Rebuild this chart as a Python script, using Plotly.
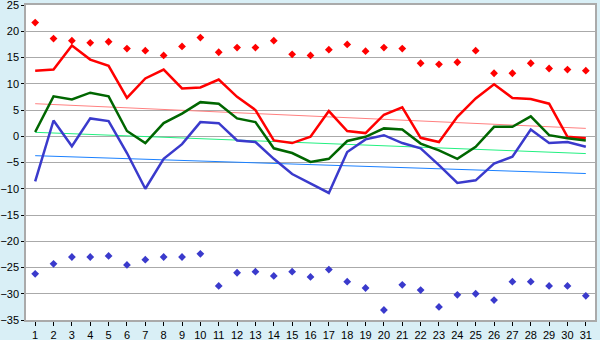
import plotly.graph_objects as go

days = list(range(1, 32))

abs_max = [21.65, 18.6, 18.2, 17.8, 18.0, 16.7, 16.3, 15.4, 17.1, 18.8,
           16.0, 16.9, 16.9, 18.2, 15.6, 15.4, 16.5, 17.5, 16.2, 16.9,
           16.7, 13.9, 13.7, 14.1, 16.3, 12.0, 12.0, 13.9, 12.9, 12.7, 12.5]

mean_max = [12.5, 12.7, 17.3, 14.6, 13.4, 7.3, 11.0, 12.7, 9.1, 9.3,
            10.8, 7.5, 5.0, -0.8, -1.3, -0.1, 4.8, 1.0, 0.6, 4.1,
            5.5, -0.3, -1.1, 3.7, 7.2, 9.9, 7.3, 7.1, 6.2, -0.1, -0.4]

mean_temp = [0.8, 7.6, 7.0, 8.3, 7.6, 1.0, -1.3, 2.5, 4.3, 6.5,
             6.2, 3.4, 2.7, -2.3, -3.2, -4.9, -4.3, -0.9, -0.1, 1.5,
             1.3, -1.4, -2.7, -4.3, -2.0, 1.8, 1.8, 3.8, 0.2, -0.4, -0.8]

mean_min = [-8.6, 3.0, -1.9, 3.4, 2.9, -3.2, -10.0, -4.3, -1.5, 2.7,
            2.5, -0.8, -1.1, -4.3, -7.2, -9.0, -10.8, -3.0, -0.6, 0.2,
            -1.3, -2.3, -5.5, -8.9, -8.4, -5.2, -3.9, 1.3, -1.3, -1.1, -2.0]

abs_min = [-26.2, -24.3, -23.0, -23.0, -22.8, -24.5, -23.5, -23.0, -23.0, -22.4,
           -28.5, -26.0, -25.8, -26.6, -25.8, -26.8, -25.4, -27.7, -28.9, -33.1,
           -28.3, -29.3, -32.5, -30.2, -30.0, -31.2, -27.7, -27.7, -28.5, -28.5, -30.4]

trend_x = [1, 31]
trend_max = [6.2, 1.5]
trend_mean = [0.75, -3.3]
trend_min = [-3.7, -7.1]

y_ticks = list(range(-35, 30, 5))

fig = go.Figure()

# trend lines
fig.add_trace(go.Scatter(x=trend_x, y=trend_max, mode="lines",
                         line=dict(color="#ff8080", width=1), hoverinfo="skip"))
fig.add_trace(go.Scatter(x=trend_x, y=trend_mean, mode="lines",
                         line=dict(color="#22f080", width=1), hoverinfo="skip"))
fig.add_trace(go.Scatter(x=trend_x, y=trend_min, mode="lines",
                         line=dict(color="#1a80ff", width=1), hoverinfo="skip"))

# main lines
fig.add_trace(go.Scatter(x=days, y=mean_max, mode="lines",
                         line=dict(color="#ff0000", width=2.5)))
fig.add_trace(go.Scatter(x=days, y=mean_temp, mode="lines",
                         line=dict(color="#006600", width=2.5)))
fig.add_trace(go.Scatter(x=days, y=mean_min, mode="lines",
                         line=dict(color="#3a3acc", width=2.5)))

# extremes
fig.add_trace(go.Scatter(x=days, y=abs_max, mode="markers",
                         marker=dict(symbol="diamond", size=6, color="#ff0000")))
fig.add_trace(go.Scatter(x=days, y=abs_min, mode="markers",
                         marker=dict(symbol="diamond", size=6, color="#3a3acc")))

fig.update_layout(
    width=600, height=340,
    margin=dict(l=26, r=5, t=5, b=20, autoexpand=False),
    paper_bgcolor="#d9eff6",
    plot_bgcolor="#ffffff",
    showlegend=False,
    font=dict(family="Liberation Sans, Arial, sans-serif", size=11, color="#000000"),
)

fig.update_xaxes(
    range=[0.5, 31.5], automargin=False,
    tickmode="array", tickvals=days, ticktext=[str(d) for d in days],
    showgrid=False, zeroline=False,
    showline=True, linecolor="#aaaaaa", linewidth=1.5, mirror=True,
    ticks="outside", ticklen=4, tickcolor="#000000", tickwidth=1,
    tickfont=dict(size=11), ticklabeloverflow="allow",
)
fig.update_yaxes(
    range=[-35, 25], automargin=False,
    tickmode="array", tickvals=y_ticks, ticktext=[str(v).replace("-", "\u2212") for v in y_ticks],
    showgrid=True, gridcolor="#aaaaaa", gridwidth=1, zeroline=False,
    showline=True, linecolor="#aaaaaa", linewidth=1.5, mirror=True,
    ticks="outside", ticklen=3, tickcolor="#000000", tickwidth=1,
    tickfont=dict(size=11), ticklabeloverflow="allow",
)

fig.write_html(
    "out.html",
    config={"displayModeBar": False},
    post_script="document.body.style.margin='0';document.body.style.padding='0';"
                "document.body.style.overflow='hidden';",
)
